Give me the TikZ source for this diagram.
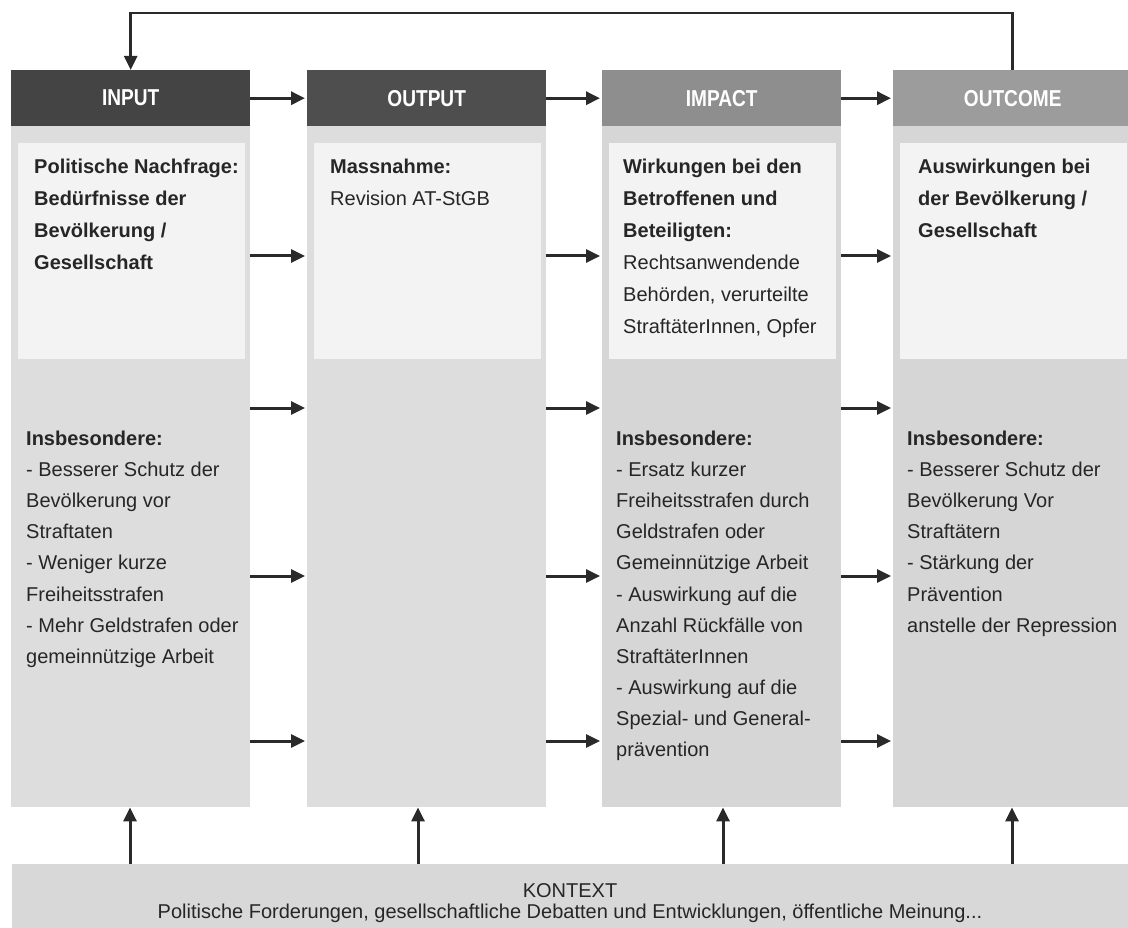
\documentclass[tikz,border=0pt]{standalone}
\usepackage{fontspec}
\setmainfont{Liberation Sans}
\newfontfamily\hdfont{Liberation Sans}[FakeStretch=0.83]
\usetikzlibrary{arrows.meta}
\definecolor{txt}{HTML}{262626}
\definecolor{hdA}{HTML}{444444}
\definecolor{hdB}{HTML}{4E4E4E}
\definecolor{hdC}{HTML}{8E8E8E}
\definecolor{hdD}{HTML}{9C9C9C}
\definecolor{bodyA}{HTML}{DDDDDD}
\definecolor{bodyB}{HTML}{D6D6D6}
\definecolor{innerc}{HTML}{F3F3F3}
\definecolor{ktxc}{HTML}{D8D8D8}
\definecolor{lin}{HTML}{2A2A2A}
\newcommand\leftstack[2]{\vtop{\baselineskip=#1\relax\lineskiplimit=-20pt\lineskip=0pt\halign{##\hfil\cr#2\crcr}}}
\newcommand\centerstack[2]{\vtop{\baselineskip=#1\relax\lineskiplimit=-20pt\lineskip=0pt\halign{\hfil##\hfil\cr#2\crcr}}}
\begin{document}
\begin{tikzpicture}[x=1pt,y=-1pt,
 hd/.style={fill=#1,minimum width=239pt,minimum height=56pt,inner sep=0pt,anchor=north west,text=white,font=\hdfont\bfseries\fontsize{23}{24}\selectfont},
 colbody/.style={fill=#1,minimum width=239pt,minimum height=681pt,inner sep=0pt,anchor=north west},
 innerbox/.style={fill=innerc,minimum width=227pt,minimum height=216pt,inner sep=0pt,anchor=north west},
 coltext/.style={anchor=base west,inner sep=0pt,text=txt,font=\fontsize{20}{24}\selectfont},
 arr/.style={draw=lin,line width=3pt,-{Triangle[length=14pt,width=13pt]}},
]
\useasboundingbox (0,0) rectangle (1128,928);
% column bodies
\node[colbody=bodyA] (b1) at (11,126) {};
\node[colbody=bodyA] (b2) at (307,126) {};
\node[colbody=bodyB] (b3) at (602,126) {};
\node[colbody=bodyB] (b4) at (893,126) {};
% inner boxes
\node[innerbox] (i1) at (18,143) {};
\node[innerbox] (i2) at (314,143) {};
\node[innerbox] (i3) at (609,143) {};
\node[innerbox] (i4) at (900,143) {};
% headers
\node[hd=hdA] (h1) at (11,70) {INPUT};
\node[hd=hdB] (h2) at (307,70) {OUTPUT};
\node[hd=hdC] (h3) at (602,70) {IMPACT};
\node[hd=hdD] (h4) at (893,70) {OUTCOME};
% context
\node[fill=ktxc,minimum width=1116pt,minimum height=64pt,inner sep=0pt,anchor=north west] (ktx) at (12,864) {};
\node[anchor=base,inner sep=0pt,text=txt,font=\fontsize{20}{21}\selectfont] (ktxt) at (570,897)
 {\centerstack{21pt}{KONTEXT\cr Politische Forderungen, gesellschaftliche Debatten und Entwicklungen, öffentliche Meinung...}};
% upper texts
\node[coltext] (u1) at (34,174) {\leftstack{32pt}{\textbf{Politische Nachfrage:}\cr\textbf{Bedürfnisse der}\cr\textbf{Bevölkerung /}\cr\textbf{Gesellschaft}}};
\node[coltext] (u2) at (330,174) {\leftstack{32pt}{\textbf{Massnahme:}\cr Revision AT-StGB}};
\node[coltext] (u3) at (623,174) {\leftstack{32pt}{\textbf{Wirkungen bei den}\cr\textbf{Betroffenen und}\cr\textbf{Beteiligten:}\cr Rechtsanwendende\cr Behörden, verurteilte\cr StraftäterInnen, Opfer}};
\node[coltext] (u4) at (918,174) {\leftstack{32pt}{\textbf{Auswirkungen bei}\cr\textbf{der Bevölkerung /}\cr\textbf{Gesellschaft}}};
% lower texts
\node[coltext] (l1) at (26,445) {\leftstack{31.2pt}{\textbf{Insbesondere:}\cr - Besserer Schutz der\cr Bevölkerung vor\cr Straftaten\cr - Weniger kurze\cr Freiheitsstrafen\cr - Mehr Geldstrafen oder\cr gemeinnützige Arbeit}};
\node[coltext] (l3) at (616,445) {\leftstack{31.2pt}{\textbf{Insbesondere:}\cr - Ersatz kurzer\cr Freiheitsstrafen durch\cr Geldstrafen oder\cr Gemeinnützige Arbeit\cr - Auswirkung auf die\cr Anzahl Rückfälle von\cr StraftäterInnen\cr - Auswirkung auf die\cr Spezial- und General-\cr prävention}};
\node[coltext] (l4) at (907,445) {\leftstack{31.2pt}{\textbf{Insbesondere:}\cr - Besserer Schutz der\cr Bevölkerung Vor\cr Straftätern\cr - Stärkung der\cr Prävention\cr anstelle der Repression}};
% header arrows
\draw[arr,shorten >=2pt] (h1.east) -- (h2.west);
\draw[arr,shorten >=2pt] (h2.east) -- (h3.west);
\draw[arr,shorten >=2pt] (h3.east) -- (h4.west);
% body arrows
\foreach \yy in {256,408,576,741} {
  \draw[arr,shorten >=2pt] (b1.east |- 0,\yy) -- (b2.west |- 0,\yy);
  \draw[arr,shorten >=2pt] (b2.east |- 0,\yy) -- (b3.west |- 0,\yy);
  \draw[arr,shorten >=2pt] (b3.east |- 0,\yy) -- (b4.west |- 0,\yy);
}
% context arrows
\draw[arr] (ktx.north -| 130,0) -- (b1.south -| 130,0);
\draw[arr] (ktx.north -| 418,0) -- (b2.south -| 418,0);
\draw[arr] (ktx.north -| 723,0) -- (b3.south -| 723,0);
\draw[arr] (ktx.north -| 1012,0) -- (b4.south -| 1012,0);
% feedback loop
\coordinate (top) at (0,13);
\draw[draw=lin,line width=2.5pt,-{Triangle[length=14pt,width=13pt]}] (h4.north) -- (h4.north |- top) -- (h1.north |- top) -- (h1.north);
\end{tikzpicture}
\end{document}
